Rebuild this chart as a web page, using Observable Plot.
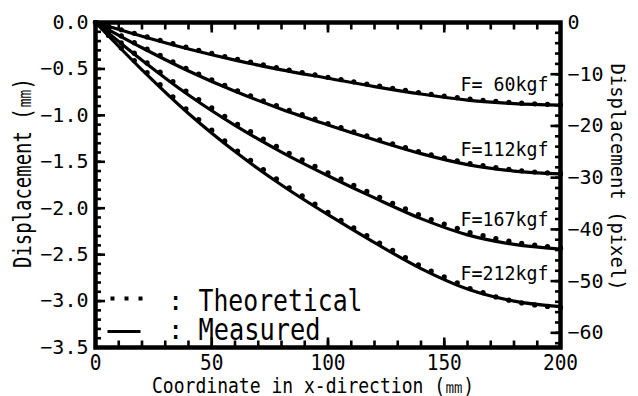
<!DOCTYPE html>
<html>
<head>
<meta charset="utf-8">
<script src="https://cdn.jsdelivr.net/npm/d3@7"></script>
<script src="https://cdn.jsdelivr.net/npm/@observablehq/plot@0.6"></script>
<style>
  html, body { margin: 0; padding: 0; background: #fff; }
  #chart { width: 638px; height: 396px; }
</style>
</head>
<body>
<div id="chart"></div>
<script>
// Beam displacement along the x-direction for four applied loads.
const forceLabels = ["F= 60kgf", "F=112kgf", "F=167kgf", "F=212kgf"];

// Measured profiles (mm), sampled every 20 mm
const measuredX = [0, 20, 40, 60, 80, 100, 120, 140, 160, 180, 200];
const measured60 = [0, -0.148, -0.285, -0.405, -0.51, -0.60, -0.69, -0.77, -0.835, -0.873, -0.89];
const measured112 = [0, -0.272, -0.522, -0.741, -0.933, -1.103, -1.263, -1.412, -1.53, -1.60, -1.63];
const measured167 = [0, -0.406, -0.781, -1.108, -1.395, -1.65, -1.889, -2.112, -2.287, -2.39, -2.44];
const measured212 = [0, -0.51, -0.98, -1.39, -1.75, -2.07, -2.37, -2.65, -2.87, -3.00, -3.06];

// Theoretical profiles (mm)
const theoryX = [0, 5.6, 11.1, 16.7, 22.2, 27.8, 33.3, 38.9, 44.4, 50, 55.6, 61.1, 66.7, 72.2, 77.8, 83.3,
  88.9, 94.4, 100, 105.6, 111.1, 116.7, 122.2, 127.8, 133.3, 138.9, 144.4, 150, 155.6, 161.1, 166.7,
  172.2, 177.8, 183.3, 188.9, 194.4, 200];
const theory60 = [0, -0.04, -0.078, -0.117, -0.155, -0.191, -0.228, -0.266, -0.299, -0.333, -0.366, -0.398,
  -0.427, -0.457, -0.486, -0.513, -0.539, -0.564, -0.59, -0.615, -0.639, -0.663, -0.686, -0.71, -0.732,
  -0.755, -0.774, -0.792, -0.81, -0.826, -0.838, -0.85, -0.861, -0.869, -0.876, -0.881, -0.886];
const theory112 = [0, -0.073, -0.145, -0.217, -0.287, -0.355, -0.424, -0.493, -0.555, -0.617, -0.678, -0.737,
  -0.79, -0.843, -0.896, -0.946, -0.993, -1.04, -1.088, -1.133, -1.177, -1.222, -1.264, -1.307, -1.348,
  -1.389, -1.424, -1.457, -1.49, -1.52, -1.542, -1.563, -1.582, -1.597, -1.61, -1.62, -1.628];
const theory167 = [0, -0.11, -0.22, -0.33, -0.435, -0.535, -0.636, -0.738, -0.83, -0.92, -1.01, -1.097,
  -1.176, -1.255, -1.335, -1.408, -1.478, -1.548, -1.62, -1.687, -1.753, -1.819, -1.883, -1.947, -2.008,
  -2.07, -2.122, -2.17, -2.218, -2.263, -2.295, -2.327, -2.355, -2.378, -2.397, -2.413, -2.43];
const theory212 = [0, -0.14, -0.275, -0.41, -0.54, -0.67, -0.80, -0.93, -1.045, -1.16, -1.275, -1.385,
  -1.485, -1.585, -1.685, -1.78, -1.868, -1.955, -2.045, -2.13, -2.212, -2.295, -2.375, -2.455, -2.532,
  -2.61, -2.677, -2.74, -2.803, -2.865, -2.91, -2.955, -2.99, -3.02, -3.042, -3.058, -3.07];

// Axes
const xTickLabels = [0, 50, 100, 150, 200];
const yTickLabels = [0, -0.5, -1.0, -1.5, -2.0, -2.5, -3.0, -3.5];
const pixelTickLabels = [0, -10, -20, -30, -40, -50, -60];
const MM_PER_PIXEL = 0.0557; // camera scale: mm per image pixel

const xTitle = "Coordinate in x-direction (㎜)";
const yTitle = "Displacement (㎜)";
const y2Title = "Displacement (pixel)";
const legendLabels = ["Theoretical", "Measured"];

const measuredSeries = [measured60, measured112, measured167, measured212];
const theorySeries = [theory60, theory112, theory167, theory212];

const measuredRows = measuredSeries.flatMap((vals, k) =>
  measuredX.map((x, i) => ({x, y: vals[i], force: forceLabels[k]})));
const theoryRows = theorySeries.flatMap((vals, k) =>
  theoryX.map((x, i) => ({x, y: vals[i], force: forceLabels[k]})));
const labelRows = forceLabels.map((label, k) => ({
  label, x: measuredX[measuredX.length - 1], y: measuredSeries[k][8]
}));

const pixelMinor = d3.range(0, -63, -2).map(p => p * MM_PER_PIXEL);
const pixelMajor = pixelTickLabels.map(p => p * MM_PER_PIXEL);

// legend glyphs
const threeDots = {draw(ctx) { for (const o of [-14, 0, 14]) ctx.rect(o - 2, -2, 4, 4); }};
const dash = {draw(ctx) { ctx.moveTo(-16.5, 0); ctx.lineTo(16.5, 0); }};

const tickStyle = {stroke: "black", strokeWidth: 2.6, label: null, tickFormat: () => ""};
const noLabel = {label: null};

const chart = Plot.plot({
  width: 638,
  height: 396,
  marginLeft: 95,
  marginRight: 78,
  marginTop: 22,
  marginBottom: 49,
  style: {fontFamily: "DejaVu Sans Mono", color: "black", background: "white", overflow: "visible"},
  x: {domain: [0, 200]},
  y: {domain: [-3.5, 0]},
  marks: [
    // minor and major ticks pointing into the frame
    Plot.axisX({anchor: "bottom", interval: 10, tickSize: -6.5, ...tickStyle}),
    Plot.axisX({anchor: "bottom", ticks: xTickLabels, tickSize: -9.5, ...tickStyle}),
    Plot.axisX({anchor: "top", interval: 10, tickSize: -6.5, ...tickStyle}),
    Plot.axisX({anchor: "top", ticks: xTickLabels, tickSize: -9.5, ...tickStyle}),
    Plot.axisY({anchor: "left", interval: 0.1, tickSize: -6, ...tickStyle}),
    Plot.axisY({anchor: "left", ticks: yTickLabels, tickSize: -10, ...tickStyle}),
    Plot.axisY({anchor: "right", ticks: pixelMinor, tickSize: -6, ...tickStyle}),
    Plot.axisY({anchor: "right", ticks: pixelMajor, tickSize: -10.5, ...tickStyle}),
    // tick labels
    Plot.axisX({anchor: "bottom", ticks: xTickLabels, tickSize: 0, tickPadding: 8, fontSize: 21, ...noLabel}),
    Plot.axisY({anchor: "left", ticks: yTickLabels, tickSize: 0, tickPadding: 7, fontSize: 20,
      tickFormat: d3.format(".1f"), ...noLabel}),
    Plot.axisY({anchor: "right", ticks: pixelMajor, tickSize: 0, tickPadding: 7, fontSize: 20,
      tickFormat: v => d3.format("d")(Math.round(v / MM_PER_PIXEL)), ...noLabel}),
    Plot.frame({stroke: "black", strokeWidth: 4.5}),
    // data
    Plot.line(measuredRows, {x: "x", y: "y", z: "force", stroke: "black", strokeWidth: 3.2, curve: "monotone-x"}),
    Plot.dot(theoryRows, {x: "x", y: "y", r: 2.6, fill: "black", stroke: null}),
    Plot.text(labelRows, {x: "x", y: "y", text: "label", textAnchor: "end", lineAnchor: "bottom",
      dx: -12, dy: -9, fontSize: 20}),
    // legend
    Plot.dot([0], {frameAnchor: "bottom-left", dx: 31, dy: -49, symbol: threeDots, fill: "black", stroke: null}),
    Plot.dot([0], {frameAnchor: "bottom-left", dx: 28.5, dy: -16, symbol: dash, fill: "none", stroke: "black", strokeWidth: 3}),
    Plot.text([":"], {frameAnchor: "bottom-left", dx: 80, dy: -38, textAnchor: "middle", lineAnchor: "bottom", fontSize: 27}),
    Plot.text([":"], {frameAnchor: "bottom-left", dx: 80, dy: -9, textAnchor: "middle", lineAnchor: "bottom", fontSize: 27}),
    Plot.text([legendLabels[0]], {frameAnchor: "bottom-left", dx: 103, dy: -37, textAnchor: "start", lineAnchor: "bottom", fontSize: 29.5}),
    Plot.text([legendLabels[1]], {frameAnchor: "bottom-left", dx: 103, dy: -8, textAnchor: "start", lineAnchor: "bottom", fontSize: 29.5}),
    // axis titles
    Plot.text([xTitle], {frameAnchor: "bottom", dx: -15, dy: 45, textAnchor: "middle", lineAnchor: "bottom", fontSize: 21}),
    Plot.text([yTitle], {frameAnchor: "left", dx: -72, dy: -12, rotate: -90, textAnchor: "middle", lineAnchor: "middle", fontSize: 24}),
    Plot.text([y2Title], {frameAnchor: "right", dx: 57, dy: -8, rotate: 90, textAnchor: "middle", lineAnchor: "middle", fontSize: 20})
  ]
});

// narrow the glyphs of the wider captions
const textLengths = {
  "Theoretical": 164, "Measured": 122,
  "F= 60kgf": 88, "F=112kgf": 88, "F=167kgf": 88, "F=212kgf": 88,
  [xTitle]: 322, [yTitle]: 190, [y2Title]: 227
};
chart.querySelectorAll("text").forEach(t => {
  const len = textLengths[t.textContent];
  if (len) {
    t.setAttribute("textLength", len);
    t.setAttribute("lengthAdjust", "spacingAndGlyphs");
  }
});
chart.querySelectorAll('g[aria-label="x-axis tick label"] text').forEach(t => {
  if (t.textContent) {
    t.setAttribute("textLength", t.textContent.length * 11.7);
    t.setAttribute("lengthAdjust", "spacingAndGlyphs");
  }
});

document.getElementById("chart").appendChild(chart);
</script>
</body>
</html>
